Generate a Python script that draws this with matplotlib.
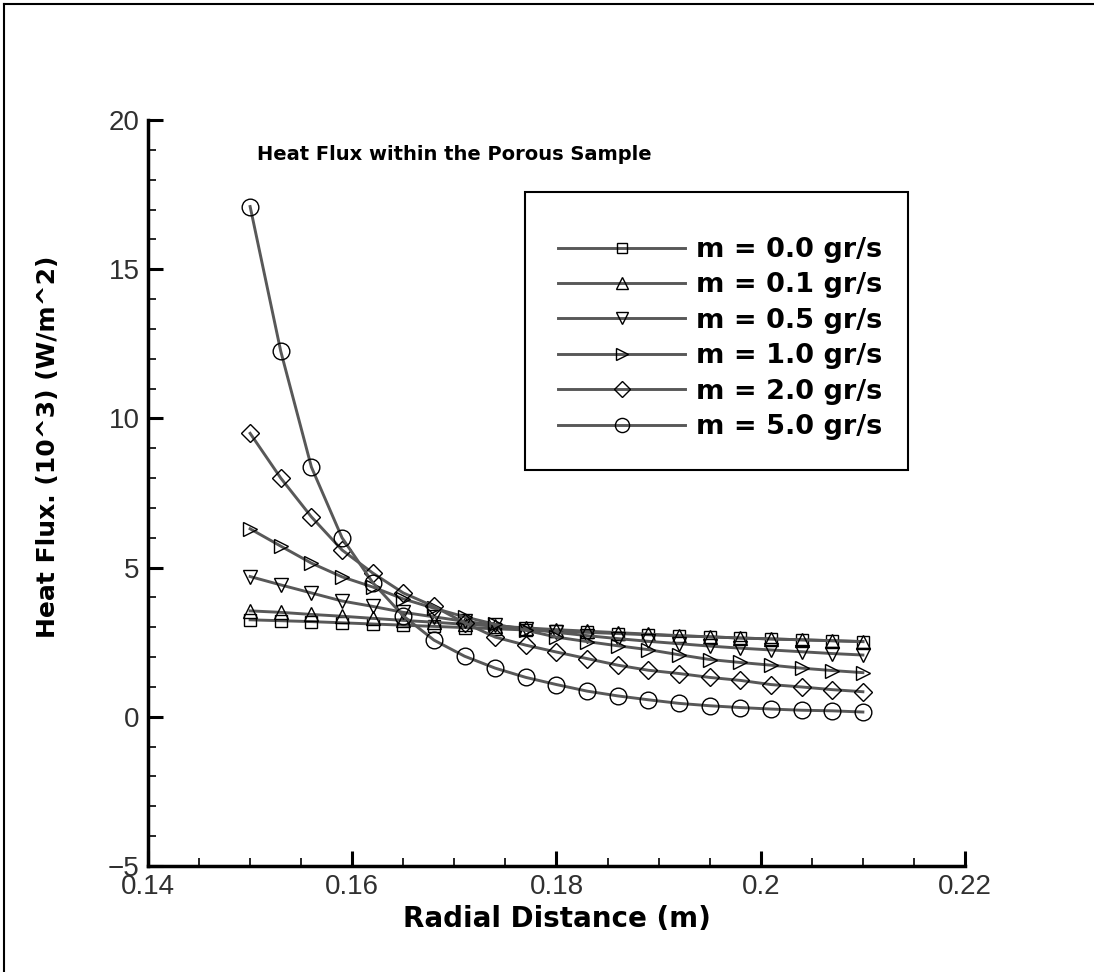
import numpy as np
import matplotlib
matplotlib.use("Agg")
import matplotlib.pyplot as plt
from matplotlib.lines import Line2D
from matplotlib.patches import Rectangle

plt.rcParams['font.family'] = ['Liberation Sans', 'DejaVu Sans']

# radial positions (m), 21 stations
r = np.round(np.arange(0.15, 0.2101, 0.003), 3)

# heat flux (10^3 W/m^2)
q_m00 = [3.25, 3.22, 3.19, 3.15, 3.11, 3.07, 3.03, 2.99, 2.95, 2.91, 2.87,
         2.83, 2.79, 2.75, 2.71, 2.68, 2.64, 2.61, 2.58, 2.55, 2.52]
q_m01 = [3.55, 3.50, 3.43, 3.37, 3.30, 3.23, 3.17, 3.10, 3.04, 2.98, 2.92,
         2.87, 2.82, 2.77, 2.72, 2.68, 2.64, 2.61, 2.58, 2.55, 2.52]
q_m05 = [4.70, 4.42, 4.15, 3.88, 3.70, 3.50, 3.35, 3.20, 3.07, 2.95, 2.83,
         2.72, 2.62, 2.53, 2.45, 2.37, 2.30, 2.24, 2.18, 2.12, 2.07]
q_m10 = [6.30, 5.72, 5.15, 4.69, 4.35, 3.95, 3.64, 3.35, 3.10, 2.90, 2.67,
         2.52, 2.38, 2.25, 2.08, 1.92, 1.82, 1.73, 1.63, 1.55, 1.48]
q_m20 = [9.50, 8.00, 6.70, 5.59, 4.82, 4.15, 3.70, 3.15, 2.67, 2.40, 2.17,
         1.95, 1.73, 1.56, 1.45, 1.32, 1.22, 1.08, 1.00, 0.91, 0.84]
q_m50 = [17.10, 12.25, 8.37, 6.00, 4.50, 3.38, 2.57, 2.03, 1.63, 1.32, 1.08,
         0.86, 0.70, 0.57, 0.45, 0.37, 0.31, 0.26, 0.22, 0.20, 0.16]

labels = ["m = 0.0 gr/s", "m = 0.1 gr/s", "m = 0.5 gr/s",
          "m = 1.0 gr/s", "m = 2.0 gr/s", "m = 5.0 gr/s"]
series = [q_m00, q_m01, q_m05, q_m10, q_m20, q_m50]
markers = ['s', '^', 'v', '>', 'D', 'o']
msizes = [9, 10, 10, 10, 9, 12]

bold = {'family': 'DejaVu Sans', 'weight': 'bold'}

fig = plt.figure(figsize=(10.94, 9.72), dpi=100)
ax = fig.add_axes([148/1094, 1-866/972, (965-148)/1094, (866-120)/972])

handles = []
for q, mk, ms, lab in zip(series, markers, msizes, labels):
    h, = ax.plot(r, q, color='#585858', lw=2.1, marker=mk, ms=ms,
                 mfc='none', mec='black', mew=1.0, label=lab)
    handles.append(h)

ax.set_xlim(0.14, 0.22)
ax.set_ylim(-5, 20)
ax.set_xticks([0.14, 0.16, 0.18, 0.2, 0.22])
ax.set_xticklabels(['0.14', '0.16', '0.18', '0.2', '0.22'])
ax.set_xticks(np.arange(0.14, 0.2201, 0.005), minor=True)
ax.set_yticks([-5, 0, 5, 10, 15, 20])
ax.set_yticks(np.arange(-5, 20.1, 1), minor=True)

for s in ['top', 'right']:
    ax.spines[s].set_visible(False)
for s in ['left', 'bottom']:
    ax.spines[s].set_linewidth(2.5)
ax.tick_params(which='major', direction='in', length=11, width=2.2,
               labelsize=20, pad=6, labelcolor='#303030')
ax.tick_params(which='minor', direction='in', length=6, width=1.2)

ax.set_xlabel("Radial Distance (m)", fontsize=20, fontdict=bold, labelpad=3)
ax.set_ylabel("Heat Flux. (10^3) (W/m^2)", fontsize=18, fontdict=bold)
ax.yaxis.set_label_coords(-0.108, 0.562)

fig.text(257/1094, 1-155/972, "Heat Flux within the Porous Sample",
         fontsize=14, va='center', ha='left', **bold)

# legend box
fig.add_artist(Rectangle((525/1094, 1-470/972), (908-525)/1094, (470-192)/972,
                         transform=fig.transFigure, fill=False,
                         edgecolor='black', lw=1.5))
leg = fig.legend(handles=handles, loc='upper left',
                 bbox_to_anchor=(558/1094, 1-237/972), frameon=False,
                 handlelength=4.7, handletextpad=0.4, labelspacing=0.35,
                 markerscale=0.85, prop={'size': 19.5, **bold},
                 borderpad=0, borderaxespad=0)

# outer frame (top and left edges)
fig.add_artist(Line2D([4/1094, 4/1094], [0, 1-4/972], transform=fig.transFigure,
                      color='black', lw=1.5))
fig.add_artist(Line2D([4/1094, 1], [1-4/972, 1-4/972], transform=fig.transFigure,
                      color='black', lw=1.5))

fig.savefig("out.png", dpi=100)
